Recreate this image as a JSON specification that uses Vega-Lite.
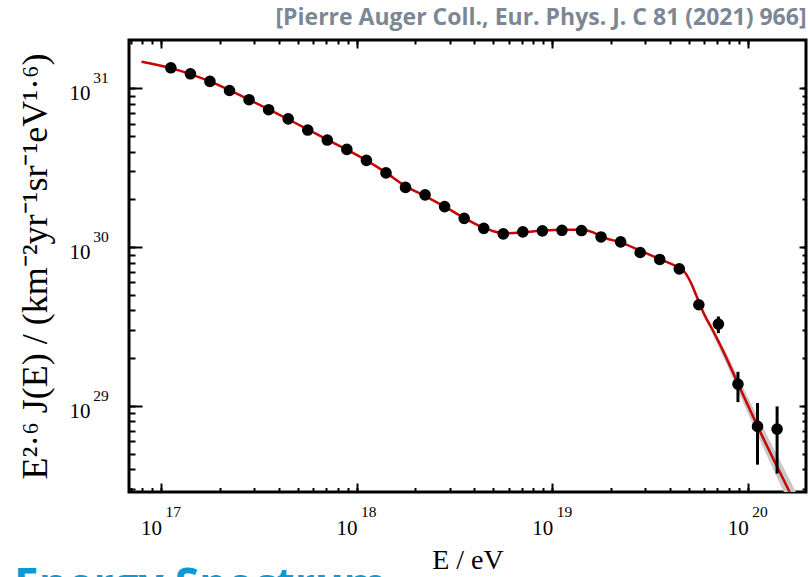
{
  "$schema": "https://vega.github.io/schema/vega-lite/v6.json",
  "width": 677,
  "height": 452,
  "autosize": {"type": "none"},
  "padding": {"left": 129, "top": 40, "right": 2, "bottom": 85},
  "background": "white",
  "config": {"view": {"stroke": "black", "strokeWidth": 3}},
  "title": {
    "text": "Energy Spectrum",
    "orient": "bottom",
    "anchor": "start",
    "frame": "group",
    "dx": -115,
    "offset": -9,
    "baseline": "top",
    "font": "Open Sans",
    "fontSize": 44,
    "fontWeight": "bold",
    "color": "#0a9ad6"
  },
  "datasets": {
    "points": [
      {"E": 1.122e17, "J": 1.349e31},
      {"E": 1.413e17, "J": 1.236e31},
      {"E": 1.778e17, "J": 1.107e31},
      {"E": 2.239e17, "J": 9.705e30},
      {"E": 2.818e17, "J": 8.492e30},
      {"E": 3.548e17, "J": 7.345e30},
      {"E": 4.467e17, "J": 6.427e30},
      {"E": 5.623e17, "J": 5.470e30},
      {"E": 7.079e17, "J": 4.732e30},
      {"E": 8.913e17, "J": 4.130e30},
      {"E": 1.122e18, "J": 3.524e30},
      {"E": 1.413e18, "J": 2.938e30},
      {"E": 1.778e18, "J": 2.382e30},
      {"E": 2.239e18, "J": 2.138e30},
      {"E": 2.818e18, "J": 1.803e30},
      {"E": 3.548e18, "J": 1.521e30},
      {"E": 4.467e18, "J": 1.315e30},
      {"E": 5.623e18, "J": 1.213e30},
      {"E": 7.079e18, "J": 1.250e30},
      {"E": 8.913e18, "J": 1.268e30},
      {"E": 1.122e19, "J": 1.279e30},
      {"E": 1.413e19, "J": 1.274e30},
      {"E": 1.778e19, "J": 1.161e30},
      {"E": 2.239e19, "J": 1.081e30},
      {"E": 2.818e19, "J": 9.268e29},
      {"E": 3.548e19, "J": 8.375e29},
      {"E": 4.467e19, "J": 7.311e29},
      {"E": 5.623e19, "J": 4.345e29},
      {"E": 7.079e19, "J": 3.281e29},
      {"E": 8.913e19, "J": 1.374e29},
      {"E": 1.122e20, "J": 7.447e28},
      {"E": 1.413e20, "J": 7.161e28}
    ],
    "errors": [
      {"E": 7.079e19, "lo": 2.877e29, "hi": 3.664e29},
      {"E": 8.913e19, "lo": 1.059e29, "hi": 1.644e29},
      {"E": 1.122e20, "lo": 4.276e28, "hi": 1.045e29},
      {"E": 1.413e20, "lo": 3.758e28, "hi": 9.954e28}
    ],
    "fit": [
      {"E": 7.943e16, "J": 1.472e31},
      {"E": 1.122e17, "J": 1.343e31},
      {"E": 1.778e17, "J": 1.107e31},
      {"E": 2.818e17, "J": 8.492e30},
      {"E": 4.467e17, "J": 6.397e30},
      {"E": 7.079e17, "J": 4.764e30},
      {"E": 1.122e18, "J": 3.524e30},
      {"E": 1.413e18, "J": 2.951e30},
      {"E": 1.778e18, "J": 2.427e30},
      {"E": 2.239e18, "J": 2.099e30},
      {"E": 2.818e18, "J": 1.803e30},
      {"E": 3.548e18, "J": 1.531e30},
      {"E": 4.467e18, "J": 1.324e30},
      {"E": 5.012e18, "J": 1.262e30},
      {"E": 5.623e18, "J": 1.225e30},
      {"E": 7.079e18, "J": 1.242e30},
      {"E": 8.913e18, "J": 1.274e30},
      {"E": 1.122e19, "J": 1.291e30},
      {"E": 1.413e19, "J": 1.291e30},
      {"E": 1.622e19, "J": 1.242e30},
      {"E": 1.778e19, "J": 1.167e30},
      {"E": 2.239e19, "J": 1.074e30},
      {"E": 2.818e19, "J": 9.528e29},
      {"E": 3.548e19, "J": 8.414e29},
      {"E": 4.467e19, "J": 7.379e29},
      {"E": 4.764e19, "J": 6.966e29},
      {"E": 5.152e19, "J": 5.888e29},
      {"E": 5.458e19, "J": 4.966e29},
      {"E": 6.026e19, "J": 3.715e29},
      {"E": 6.637e19, "J": 2.992e29},
      {"E": 7.464e19, "J": 2.239e29},
      {"E": 8.913e19, "J": 1.384e29},
      {"E": 1.127e20, "J": 7.379e28},
      {"E": 1.637e20, "J": 2.877e28},
      {"E": 1.995e20, "J": 1.746e28}
    ],
    "band": [
      {"E": 5.012e19, "lo": 6.095e29, "hi": 6.237e29},
      {"E": 6.310e19, "lo": 3.214e29, "hi": 3.491e29},
      {"E": 7.943e19, "lo": 1.746e29, "hi": 2.051e29},
      {"E": 1.0e20, "lo": 9.057e28, "hi": 1.140e29},
      {"E": 1.259e20, "lo": 4.808e28, "hi": 6.486e28},
      {"E": 1.585e20, "lo": 2.618e28, "hi": 3.733e28},
      {"E": 1.995e20, "lo": 1.435e28, "hi": 2.123e28}
    ]
  },
  "layer": [
    {
      "data": {"name": "band"},
      "mark": {"type": "area", "color": "#c8c8c8", "clip": true},
      "encoding": {
        "x": {
          "field": "E", "type": "quantitative",
          "scale": {"type": "log", "domain": [6.855e16, 1.986e20], "nice": false, "zero": false},
          "axis": {
            "orient": "bottom",
            "offset": -9,
            "values": [1e17, 1e18, 1e19, 1e20],
            "labelExpr": "'10'",
            "domain": false,
            "ticks": true,
            "tickSize": 9,
            "tickWidth": 2,
            "tickColor": "black",
            "grid": false,
            "labelFont": "Liberation Serif",
            "labelFontSize": 21,
            "labelColor": "black",
            "labelAlign": "center",
            "labelBaseline": "alphabetic",
            "labelOffset": -10,
            "labelPadding": 42.3,
            "labelFlush": false,
            "labelOverlap": false,
            "title": "E / eV",
            "titleFont": "Liberation Serif",
            "titleFontSize": 28,
            "titleFontWeight": "normal",
            "titleColor": "black",
            "titlePadding": 8
          }
        },
        "y": {
          "field": "lo", "type": "quantitative",
          "scale": {"type": "log", "domain": [2.877e28, 2.018e31], "nice": false, "zero": false},
          "axis": {
            "orient": "left",
            "offset": -13,
            "values": [1e29, 1e30, 1e31],
            "labelExpr": "'10'",
            "domain": false,
            "ticks": true,
            "tickSize": 13,
            "tickWidth": 2,
            "tickColor": "black",
            "grid": false,
            "labelFont": "Liberation Serif",
            "labelFontSize": 21,
            "labelColor": "black",
            "labelAlign": "right",
            "labelBaseline": "alphabetic",
            "labelOffset": 11.5,
            "labelPadding": 39,
            "labelFlush": false,
            "labelOverlap": false,
            "title": "E²·⁶ J(E) / (km⁻²yr⁻¹sr⁻¹eV¹·⁶)",
            "titleFont": "Liberation Serif",
            "titleFontSize": 36,
            "titleFontWeight": "normal",
            "titleColor": "black",
            "titlePadding": 15
          }
        },
        "y2": {"field": "hi"}
      }
    },
    {
      "data": {"name": "fit"},
      "mark": {"type": "line", "color": "#cc0000", "strokeWidth": 2.5, "interpolate": "monotone", "clip": true},
      "encoding": {
        "x": {
          "field": "E", "type": "quantitative",
          "scale": {"type": "log", "domain": [6.855e16, 1.986e20], "nice": false, "zero": false},
          "axis": {
            "orient": "bottom",
            "offset": -4.5,
            "values": [7e16, 8e16, 9e16, 1e17, 2e17, 3e17, 4e17, 5e17, 6e17, 7e17, 8e17, 9e17, 1e18, 2e18, 3e18, 4e18, 5e18, 6e18, 7e18, 8e18, 9e18, 1e19, 2e19, 3e19, 4e19, 5e19, 6e19, 7e19, 8e19, 9e19, 1e20],
            "labelExpr": "datum.value == 1e17 ? '17' : datum.value == 1e18 ? '18' : datum.value == 1e19 ? '19' : datum.value == 1e20 ? '20' : ''",
            "domain": false,
            "ticks": true,
            "tickSize": 4.5,
            "tickWidth": 2,
            "tickColor": "black",
            "grid": false,
            "labelFont": "Liberation Serif",
            "labelFontSize": 15.5,
            "labelColor": "black",
            "labelAlign": "left",
            "labelBaseline": "alphabetic",
            "labelOffset": 4,
            "labelPadding": 24,
            "labelFlush": false,
            "labelOverlap": false,
            "title": null
          }
        },
        "y": {
          "field": "J", "type": "quantitative",
          "scale": {"type": "log", "domain": [2.877e28, 2.018e31], "nice": false, "zero": false},
          "axis": {
            "orient": "left",
            "offset": -6,
            "values": [3e28, 4e28, 5e28, 6e28, 7e28, 8e28, 9e28, 1e29, 2e29, 3e29, 4e29, 5e29, 6e29, 7e29, 8e29, 9e29, 1e30, 2e30, 3e30, 4e30, 5e30, 6e30, 7e30, 8e30, 9e30, 1e31],
            "labelExpr": "datum.value == 1e29 ? '29' : datum.value == 1e30 ? '30' : datum.value == 1e31 ? '31' : ''",
            "domain": false,
            "ticks": true,
            "tickSize": 6,
            "tickWidth": 2,
            "tickColor": "black",
            "grid": false,
            "labelFont": "Liberation Serif",
            "labelFontSize": 15.5,
            "labelColor": "black",
            "labelAlign": "right",
            "labelBaseline": "alphabetic",
            "labelOffset": -5.7,
            "labelPadding": 20.7,
            "labelFlush": false,
            "labelOverlap": false,
            "title": null
          }
        }
      }
    },
    {
      "data": {"name": "errors"},
      "mark": {"type": "rule", "color": "black", "strokeWidth": 3, "clip": true},
      "encoding": {
        "x": {
          "field": "E", "type": "quantitative",
          "scale": {"type": "log", "domain": [6.855e16, 1.986e20], "nice": false, "zero": false},
          "axis": {
            "orient": "top",
            "offset": -8,
            "values": [1e17, 1e18, 1e19, 1e20],
            "labels": false,
            "domain": false,
            "ticks": true,
            "tickSize": 8,
            "tickWidth": 2,
            "tickColor": "black",
            "grid": false,
            "title": null
          }
        },
        "y": {
          "field": "lo", "type": "quantitative",
          "scale": {"type": "log", "domain": [2.877e28, 2.018e31], "nice": false, "zero": false},
          "axis": {
            "orient": "right",
            "offset": -7,
            "values": [1e29, 1e30, 1e31],
            "labels": false,
            "domain": false,
            "ticks": true,
            "tickSize": 7,
            "tickWidth": 2,
            "tickColor": "black",
            "grid": false,
            "title": null
          }
        },
        "y2": {"field": "hi"}
      }
    },
    {
      "data": {"name": "points"},
      "mark": {"type": "circle", "color": "black", "opacity": 1, "size": 135},
      "encoding": {
        "x": {
          "field": "E", "type": "quantitative",
          "scale": {"type": "log", "domain": [6.855e16, 1.986e20], "nice": false, "zero": false},
          "axis": {
            "orient": "top",
            "offset": -4,
            "values": [7e16, 8e16, 9e16, 1e17, 2e17, 3e17, 4e17, 5e17, 6e17, 7e17, 8e17, 9e17, 1e18, 2e18, 3e18, 4e18, 5e18, 6e18, 7e18, 8e18, 9e18, 1e19, 2e19, 3e19, 4e19, 5e19, 6e19, 7e19, 8e19, 9e19, 1e20],
            "labels": false,
            "domain": false,
            "ticks": true,
            "tickSize": 4,
            "tickWidth": 2,
            "tickColor": "black",
            "grid": false,
            "title": "[Pierre Auger Coll., Eur. Phys. J. C 81 (2021) 966]",
            "titleAnchor": "end",
            "titleFont": "Open Sans",
            "titleFontSize": 23,
            "titleFontWeight": "bold",
            "titleColor": "#7b8794",
            "titlePadding": 10
          }
        },
        "y": {
          "field": "J", "type": "quantitative",
          "scale": {"type": "log", "domain": [2.877e28, 2.018e31], "nice": false, "zero": false},
          "axis": {
            "orient": "right",
            "offset": -4,
            "values": [3e28, 4e28, 5e28, 6e28, 7e28, 8e28, 9e28, 1e29, 2e29, 3e29, 4e29, 5e29, 6e29, 7e29, 8e29, 9e29, 1e30, 2e30, 3e30, 4e30, 5e30, 6e30, 7e30, 8e30, 9e30, 1e31],
            "labels": false,
            "domain": false,
            "ticks": true,
            "tickSize": 4,
            "tickWidth": 2,
            "tickColor": "black",
            "grid": false,
            "title": null
          }
        }
      }
    }
  ],
  "resolve": {"axis": {"x": "independent", "y": "independent"}}
}
